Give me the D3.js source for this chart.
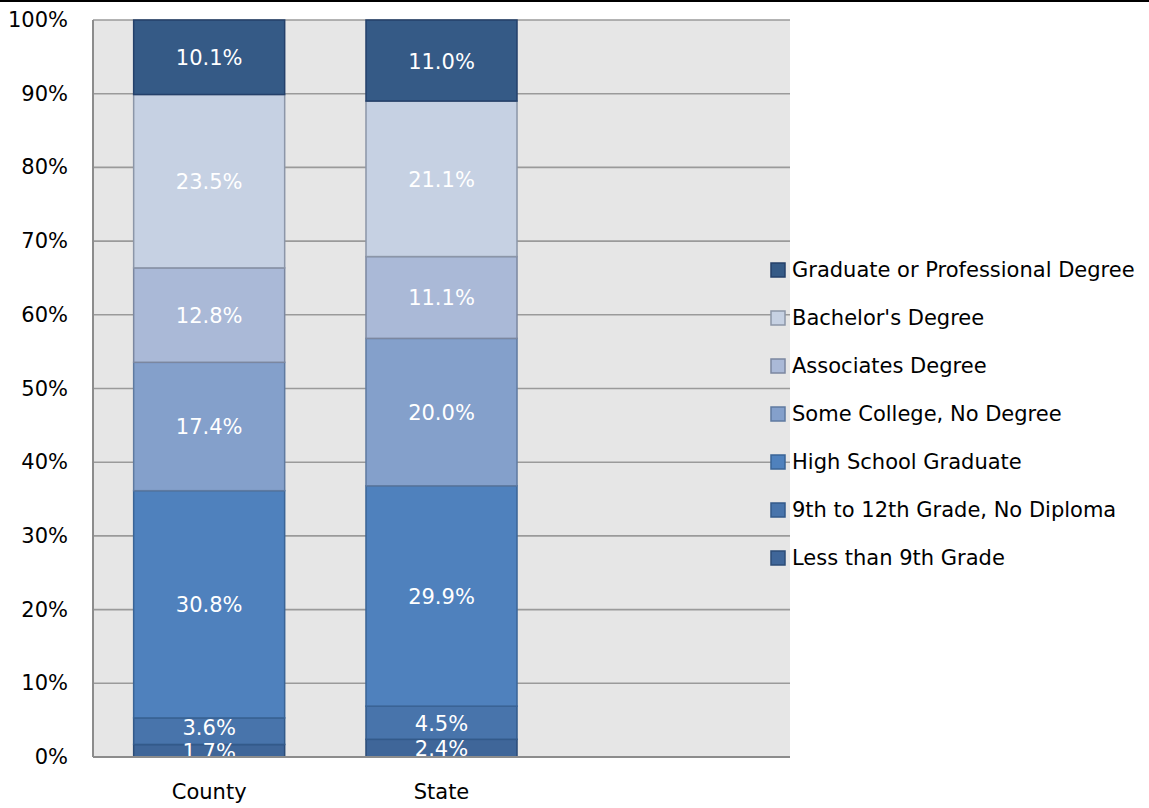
<!DOCTYPE html>
<html>
<head>
<meta charset="utf-8">
<script src="https://cdn.jsdelivr.net/npm/d3@7"></script>
<style>
  html, body { margin: 0; padding: 0; background: #fff; }
  svg { display: block; font-family: "DejaVu Sans", sans-serif; }
</style>
</head>
<body>
<svg id="chart" width="1149" height="808"></svg>
<script>
// ── Data ────────────────────────────────────────────────────────────────────
const categories = ['County', 'State'];
// bottom → top
const levels = [
  'Less than 9th Grade',
  '9th to 12th Grade, No Diploma',
  'High School Graduate',
  'Some College, No Degree',
  'Associates Degree',
  "Bachelor's Degree",
  'Graduate or Professional Degree'
];
const countyValues = [1.7, 3.6, 30.8, 17.4, 12.8, 23.5, 10.1];
const stateValues  = [2.4, 4.5, 29.9, 20.0, 11.1, 21.1, 11.0];
const yTicks = [0, 0.1, 0.2, 0.3, 0.4, 0.5, 0.6, 0.7, 0.8, 0.9, 1];

const fills   = ['#3f6699', '#4874ab', '#4f81bd', '#84a0cb', '#aab9d7', '#c6d1e3', '#355a86'];
const strokes = ['#2c4c77', '#335a8a', '#3a6496', '#5f7aa0', '#7b87a0', '#8c96a8', '#24406a'];

const svg = d3.select('#chart');
const W = 1149, H = 808;
const FS = 21;
const plot = { left: 93, right: 790, top: 20, bottom: 757 };

// top rule
svg.append('rect').attr('x', 0).attr('y', 0).attr('width', W).attr('height', 2).attr('fill', '#000');

// ── Scales ──────────────────────────────────────────────────────────────────
const x = d3.scaleBand()
  .domain([...categories, '_empty'])
  .range([plot.left, plot.right])
  .paddingInner(0.35)
  .paddingOuter(0.175);
const y = d3.scaleLinear().domain([0, 1]).range([plot.bottom, plot.top]);

// plot background
svg.append('rect')
  .attr('x', plot.left).attr('y', plot.top)
  .attr('width', plot.right - plot.left).attr('height', plot.bottom - plot.top)
  .attr('fill', '#e6e6e6');

// gridlines
svg.append('g').selectAll('line').data(yTicks.filter(d => d > 0)).join('line')
  .attr('x1', plot.left).attr('x2', plot.right)
  .attr('y1', d => y(d)).attr('y2', d => y(d))
  .attr('stroke', '#9a9a9a').attr('stroke-width', 1.6);

// y labels
svg.append('g').selectAll('text').data(yTicks).join('text')
  .attr('x', 68).attr('y', d => y(d))
  .attr('text-anchor', 'end').attr('dominant-baseline', 'central')
  .attr('font-size', FS).attr('fill', '#000')
  .text(d3.format('.0%'));

// ── Stacked bars ────────────────────────────────────────────────────────────
const series = [countyValues, stateValues];
const barsG = svg.append('g');
const labelsG = svg.append('g');

categories.forEach((cat, ci) => {
  const vals = series[ci];
  const total = d3.sum(vals);
  let acc = 0;
  const segs = vals.map((v, i) => {
    const s = { i, v, y0: acc / total, y1: (acc + v) / total };
    acc += v;
    return s;
  });
  // label positions, nudge apart when small segments crowd each other
  let prev = Infinity;
  segs.forEach(s => {
    let ly = y((s.y0 + s.y1) / 2) + 1;
    if (prev - ly < 24) ly = prev - 24;
    s.ly = ly;
    prev = ly;
  });
  barsG.selectAll(null).data(segs).join('rect')
    .attr('x', x(cat)).attr('width', x.bandwidth())
    .attr('y', d => y(d.y1)).attr('height', d => y(d.y0) - y(d.y1))
    .attr('fill', d => fills[d.i])
    .attr('stroke', d => strokes[d.i]).attr('stroke-width', 1.5);
  labelsG.selectAll(null).data(segs).join('text')
    .attr('x', x(cat) + x.bandwidth() / 2)
    .attr('y', d => d.ly)
    .attr('text-anchor', 'middle').attr('dominant-baseline', 'central')
    .attr('font-size', FS).attr('fill', '#fff')
    .text(d => d.v.toFixed(1) + '%');
});

// axis lines
svg.append('line')
  .attr('x1', plot.left).attr('x2', plot.left).attr('y1', plot.top).attr('y2', plot.bottom)
  .attr('stroke', '#8c8c8c').attr('stroke-width', 2);
svg.append('line')
  .attr('x1', plot.left).attr('x2', plot.right).attr('y1', plot.bottom).attr('y2', plot.bottom)
  .attr('stroke', '#8c8c8c').attr('stroke-width', 2);

// category labels
svg.append('g').selectAll('text').data(categories).join('text')
  .attr('x', d => x(d) + x.bandwidth() / 2).attr('y', 792)
  .attr('text-anchor', 'middle').attr('dominant-baseline', 'central')
  .attr('font-size', FS).attr('fill', '#000')
  .text(d => d);

// ── Legend ──────────────────────────────────────────────────────────────────
const legendItems = levels.map((name, i) => ({ name, i })).reverse();
const legY = d3.scalePoint().domain(legendItems.map(d => d.name)).range([270, 558]);
const leg = svg.append('g');
leg.selectAll('rect').data(legendItems).join('rect')
  .attr('x', 771).attr('y', d => legY(d.name) - 7)
  .attr('width', 14).attr('height', 14)
  .attr('fill', d => fills[d.i]).attr('stroke', d => strokes[d.i]).attr('stroke-width', 1.5);
leg.selectAll('text').data(legendItems).join('text')
  .attr('x', 792).attr('y', d => legY(d.name))
  .attr('dominant-baseline', 'central')
  .attr('font-size', FS).attr('fill', '#000')
  .text(d => d.name);
</script>
</body>
</html>
